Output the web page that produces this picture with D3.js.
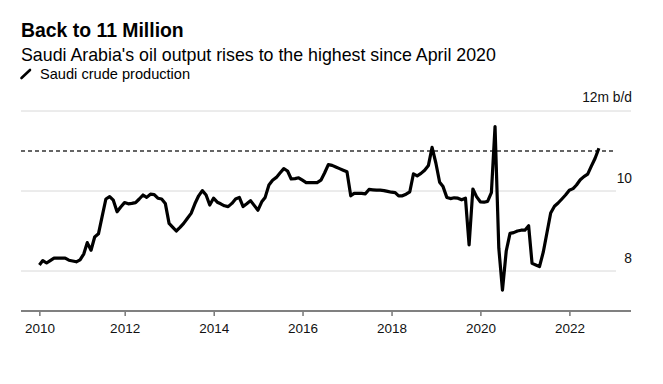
<!DOCTYPE html>
<html>
<head>
<meta charset="utf-8">
<script src="https://cdn.jsdelivr.net/npm/d3@7"></script>
<style>
  html, body { margin: 0; padding: 0; background: #fff; }
  svg { display: block; font-family: "Liberation Sans", Arial, Helvetica, sans-serif; }
</style>
</head>
<body>
<div id="chart"></div>
<script>
// ---- Data ----
const startYear = 2010;
const startMonth = 0; // January 2010, monthly to August 2022
const production = [
  // 2010
  8.15, 8.26, 8.20, 8.26, 8.32, 8.32, 8.32, 8.32, 8.27, 8.25, 8.23, 8.28,
  // 2011
  8.43, 8.71, 8.52, 8.85, 8.93, 9.36, 9.80, 9.86, 9.77, 9.48, 9.60, 9.71,
  // 2012
  9.68, 9.69, 9.71, 9.80, 9.90, 9.84, 9.92, 9.91, 9.82, 9.80, 9.69, 9.19,
  // 2013
  9.09, 9.00, 9.09, 9.19, 9.32, 9.44, 9.68, 9.88, 10.01, 9.90, 9.65, 9.82,
  // 2014
  9.72, 9.68, 9.63, 9.61, 9.69, 9.80, 9.84, 9.61, 9.68, 9.76, 9.64, 9.52,
  // 2015
  9.73, 9.84, 10.15, 10.27, 10.34, 10.45, 10.56, 10.50, 10.30, 10.31, 10.33, 10.27,
  // 2016
  10.21, 10.21, 10.21, 10.21, 10.27, 10.45, 10.66, 10.64, 10.60, 10.56, 10.52, 10.48,
  // 2017
  9.88, 9.94, 9.94, 9.94, 9.93, 10.04, 10.03, 10.02, 10.02, 10.01, 9.99, 9.97,
  // 2018
  9.96, 9.88, 9.88, 9.92, 9.98, 10.43, 10.38, 10.44, 10.52, 10.64, 11.09, 10.70,
  // 2019
  10.22, 10.11, 9.84, 9.81, 9.83, 9.82, 9.78, 9.82, 8.65, 10.05, 9.86, 9.73,
  // 2020
  9.72, 9.74, 9.96, 11.61, 8.57, 7.52, 8.50, 8.94, 8.96, 9.00, 9.02, 9.02,
  // 2021
  9.13, 8.19, 8.15, 8.11, 8.47, 8.95, 9.45, 9.62, 9.70, 9.80, 9.90, 10.02,
  // 2022
  10.06, 10.15, 10.28, 10.36, 10.42, 10.62, 10.82, 11.07
];
const yTicks = [8, 10, 12];
const referenceLevel = 11;
const xTickYears = [2010, 2012, 2014, 2016, 2018, 2020, 2022];
const titleText = "Back to 11 Million";
const subtitleText = "Saudi Arabia's oil output rises to the highest since April 2020";
const legendText = "Saudi crude production";
const unitLabel = "12m b/d";

// monthly points dated at month end
const data = production.map((v, i) => ({
  date: new Date(startYear, startMonth + i + 1, 0),
  value: v
}));

const W = 663, H = 384;
const svg = d3.select("#chart").append("svg")
  .attr("width", W).attr("height", H);

const plotLeft = 21, plotRight = 631, gridShortRight = 616;
const x = d3.scaleTime()
  .domain(d3.extent(data, d => d.date))
  .range([39.4, 598.9]);
const y = d3.scaleLinear().domain([7, 12]).range([311, 111]);

// Title block
svg.append("text").attr("x", 21).attr("y", 37)
  .attr("font-size", 19.4).attr("font-weight", "bold").attr("fill", "#000")
  .text(titleText);
svg.append("text").attr("x", 21).attr("y", 61)
  .attr("font-size", 17.8).attr("fill", "#000")
  .text(subtitleText);
svg.append("line")
  .attr("x1", 21.5).attr("y1", 78).attr("x2", 30).attr("y2", 70)
  .attr("stroke", "#000").attr("stroke-width", 2.6).attr("stroke-linecap", "round");
svg.append("text").attr("x", 40).attr("y", 78.5)
  .attr("font-size", 14.6).attr("fill", "#000")
  .text(legendText);

// Gridlines
const grid = svg.append("g");
yTicks.forEach(t => {
  grid.append("line")
    .attr("x1", plotLeft).attr("x2", t === 12 ? plotRight : gridShortRight)
    .attr("y1", y(t)).attr("y2", y(t))
    .attr("stroke", "#d8d8d8").attr("stroke-width", 1);
});

// Y labels
yTicks.forEach(t => {
  svg.append("text")
    .attr("x", 632).attr("y", y(t) - (t === 12 ? 9.5 : 8.5))
    .attr("text-anchor", "end").attr("font-size", 13.8).attr("fill", "#111")
    .text(t === 12 ? unitLabel : d3.format("d")(t));
});

// Reference dashed line
svg.append("line")
  .attr("x1", plotLeft).attr("x2", gridShortRight)
  .attr("y1", y(referenceLevel)).attr("y2", y(referenceLevel))
  .attr("stroke", "#333").attr("stroke-width", 1.4)
  .attr("stroke-dasharray", "4,3");

// X axis
const tickDates = xTickYears.map((yr, i) => i === 0 ? data[0].date : new Date(yr, 0, 1));
const xAxis = d3.axisBottom(x)
  .tickValues(tickDates)
  .tickSize(5)
  .tickSizeOuter(0)
  .tickPadding(7)
  .tickFormat(d3.timeFormat("%Y"));
const gx = svg.append("g").attr("transform", "translate(0,311)").call(xAxis);
gx.select(".domain").remove();
gx.selectAll(".tick line").attr("stroke", "#333").attr("stroke-width", 1);
gx.selectAll(".tick text").attr("font-size", 13.5).attr("fill", "#111")
  .attr("font-family", "Liberation Sans, Arial, sans-serif");
svg.append("line")
  .attr("x1", plotLeft).attr("x2", plotRight).attr("y1", 311).attr("y2", 311)
  .attr("stroke", "#808080").attr("stroke-width", 2);

// Line
const line = d3.line().x(d => x(d.date)).y(d => y(d.value));
svg.append("path").datum(data)
  .attr("d", line)
  .attr("fill", "none").attr("stroke", "#000").attr("stroke-width", 3.2)
  .attr("stroke-linejoin", "round").attr("stroke-linecap", "butt");
</script>
</body>
</html>
